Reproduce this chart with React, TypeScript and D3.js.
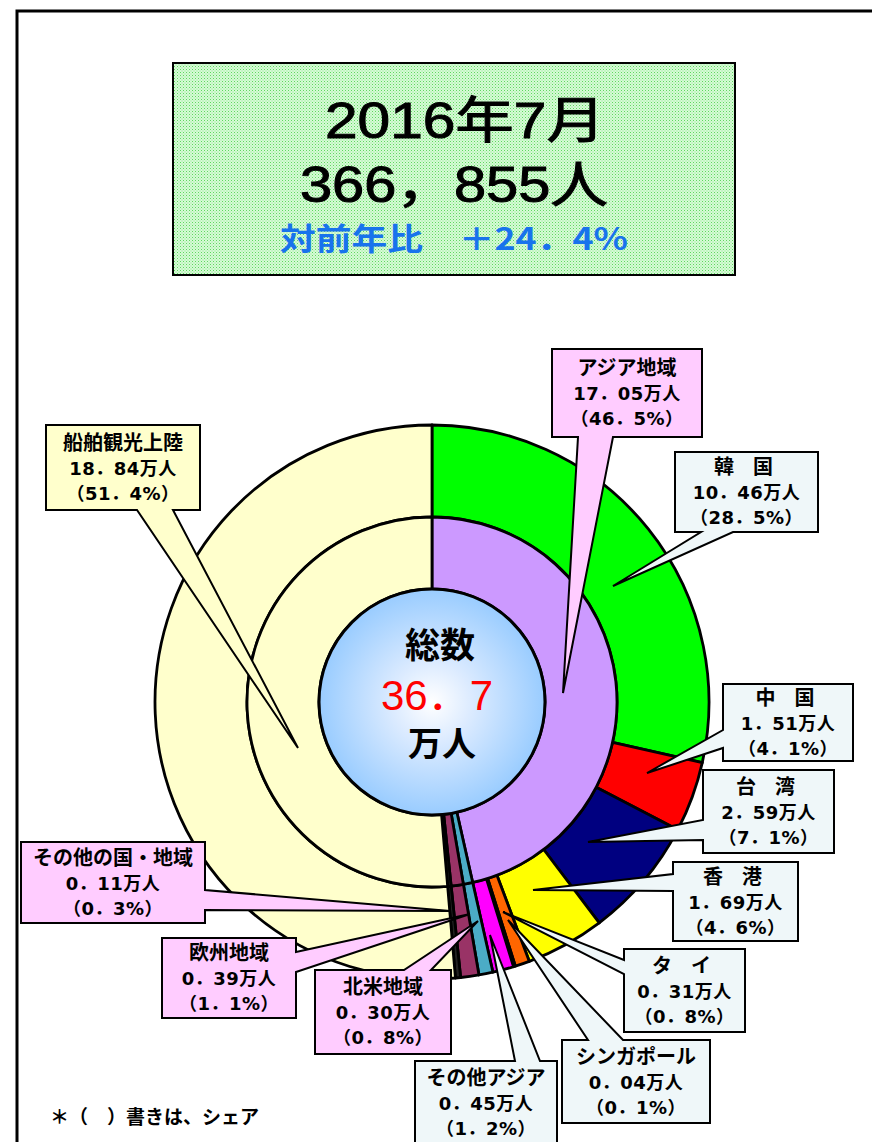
import React from 'react';
import * as d3 from 'd3';

// 2016年7月 visitors (万人)
const innerNames = ['アジア地域', '北米地域', '欧州地域', 'その他の国・地域', '船舶観光上陸'];
const innerValues = [17.05, 0.30, 0.39, 0.11, 18.84];
const innerShares = ['46．5', '0．8', '1．1', '0．3', '51．4'];

const outerNames = ['韓国', '中国', '台湾', '香港', 'タイ', 'シンガポール', 'その他アジア', '北米地域', '欧州地域', 'その他の国・地域', '船舶観光上陸'];
const outerValues = [10.46, 1.51, 2.59, 1.69, 0.31, 0.04, 0.45, 0.30, 0.39, 0.11, 18.84];
const outerShares = ['28．5', '4．1', '7．1', '4．6', '0．8', '0．1', '1．2', '0．8', '1．1', '0．3', '51．4'];

const titleLines = ['2016年7月', '366，855人', '対前年比　＋24．4%'];
const totalLabel = '36．7';

const colors: Record<string, string> = {
  'アジア地域': '#CC99FF',
  '韓国': '#00FF00',
  '中国': '#FF0000',
  '台湾': '#000080',
  '香港': '#FFFF00',
  'タイ': '#FF6600',
  'シンガポール': '#008080',
  'その他アジア': '#FF00FF',
  '北米地域': '#4BACC6',
  '欧州地域': '#993366',
  'その他の国・地域': '#222222',
  '船舶観光上陸': '#FFFFCC',
};

const displayNames: Record<string, string> = {
  '韓国': '韓 国', '中国': '中 国', '台湾': '台 湾', '香港': '香 港', 'タイ': 'タ イ',
};

const PINK = '#FFCCFF';
const PALE = '#EFF7F9';
const CREAM = '#FFFFCC';

// callout layout: box [x, y, w, h], side of the pointer, base range along that side, tip point
const callouts = [
  { name: '船舶観光上陸', ring: 'inner', fill: CREAM, box: [46, 425, 154, 85], side: 'bottom', base: [137, 173], tip: [298, 748] },
  { name: 'アジア地域', ring: 'inner', fill: PINK, box: [552, 349, 150, 88], side: 'bottom', base: [578, 613], tip: [563, 693] },
  { name: '韓国', ring: 'outer', fill: PALE, box: [675, 452, 143, 80], side: 'bottom', base: [701, 733], tip: [613, 586] },
  { name: '中国', ring: 'outer', fill: PALE, box: [723, 684, 130, 77], side: 'left', base: [730, 748], tip: [647, 773] },
  { name: '台湾', ring: 'outer', fill: PALE, box: [703, 770, 131, 83], side: 'left', base: [820, 840], tip: [588, 842] },
  { name: '香港', ring: 'outer', fill: PALE, box: [673, 862, 125, 79], side: 'left', base: [874, 891], tip: [533, 890] },
  { name: 'タイ', ring: 'outer', fill: PALE, box: [624, 949, 121, 83], side: 'left', base: [960, 974], tip: [503, 912] },
  { name: 'シンガポール', ring: 'outer', fill: PALE, box: [562, 1040, 148, 83], side: 'top', base: [588, 623], tip: [508, 920] },
  { name: 'その他アジア', ring: 'outer', fill: PALE, box: [415, 1061, 142, 84], side: 'top', base: [515, 540], tip: [490, 935] },
  { name: '北米地域', ring: 'outer', fill: PINK, box: [315, 970, 136, 84], side: 'top', base: [404, 431], tip: [478, 921] },
  { name: '欧州地域', ring: 'outer', fill: PINK, box: [162, 938, 134, 80], side: 'right', base: [952, 972], tip: [470, 914] },
  { name: 'その他の国・地域', ring: 'outer', fill: PINK, box: [21, 842, 184, 81], side: 'right', base: [890, 910], tip: [450, 911] },
];

function calloutPath(c: any) {
  const [x, y, w, h] = c.box;
  const [a, b] = c.base;
  const [tx, ty] = c.tip;
  if (c.side === 'bottom')
    return `M${x},${y}H${x + w}V${y + h}H${b}L${tx},${ty}L${a},${y + h}H${x}Z`;
  if (c.side === 'top')
    return `M${x},${y}H${a}L${tx},${ty}L${b},${y}H${x + w}V${y + h}H${x}Z`;
  if (c.side === 'left')
    return `M${x},${y}H${x + w}V${y + h}H${x}V${b}L${tx},${ty}L${x},${a}Z`;
  return `M${x},${y}H${x + w}V${a}L${tx},${ty}L${x + w},${b}V${y + h}H${x}Z`;
}

export default function App() {
  const cx = 432;
  const cy = 702;
  const rCenter = 113;
  const rMid = 185;
  const rOuter = 277;

  const pie = d3.pie<number>().sort(null).value((d) => d).startAngle(0).endAngle(2 * Math.PI);
  const innerArcs = pie(innerValues);
  const outerArcs = pie(outerValues);
  const innerArc = d3.arc<d3.PieArcDatum<number>>().innerRadius(rCenter).outerRadius(rMid);
  const outerArc = d3.arc<d3.PieArcDatum<number>>().innerRadius(rMid).outerRadius(rOuter);

  const fontJP = "'Noto Sans CJK JP', sans-serif";
  const fontNum = "'Liberation Sans', 'Noto Sans CJK JP', sans-serif";
  const fontLabel = "'DejaVu Sans', 'Noto Sans CJK JP', sans-serif";

  const labelLines = (c: any) => {
    const names = c.ring === 'inner' ? innerNames : outerNames;
    const vals = c.ring === 'inner' ? innerValues : outerValues;
    const shares = c.ring === 'inner' ? innerShares : outerShares;
    const i = names.indexOf(c.name);
    return [
      displayNames[c.name] || c.name,
      vals[i].toFixed(2).replace('.', '．') + '万人',
      '（' + shares[i] + '%）',
    ];
  };

  return (
    <svg width={872} height={1142} style={{ position: 'absolute', left: 0, top: 0, background: '#fff' }}>
      <defs>
        <pattern id="dots" width={3} height={3} patternUnits="userSpaceOnUse">
          <rect width={3} height={3} fill="#D6FBD6" />
          <rect x={0} y={0} width={1} height={1} fill="#5FD75F" />
          <rect x={1.5} y={1.5} width={1} height={1} fill="#8FE58F" />
        </pattern>
        <radialGradient id="centerGrad" cx="50%" cy="50%" r="50%">
          <stop offset="0%" stopColor="#FFFFFF" />
          <stop offset="35%" stopColor="#DCEBFF" />
          <stop offset="100%" stopColor="#99CCFF" />
        </radialGradient>
      </defs>

      {/* frame */}
      <path d="M17,1142V11H872" fill="none" stroke="#000" strokeWidth={3} />

      {/* title box */}
      <rect x={173} y={63} width={562} height={212} fill="url(#dots)" stroke="#000" strokeWidth={2} />
      <text x={465} y={138} textAnchor="middle" fontFamily={fontNum} stroke="#000" strokeWidth={1}
        fontSize={50} textLength={280} lengthAdjust="spacingAndGlyphs" fill="#000">{titleLines[0]}</text>
      <text x={454} y={202} textAnchor="middle" fontFamily={fontNum} stroke="#000" strokeWidth={1}
        fontSize={50} textLength={308} lengthAdjust="spacingAndGlyphs" fill="#000">{titleLines[1]}</text>
      <text x={454} y={250} textAnchor="middle" fontFamily={fontJP} fontWeight={700}
        fontSize={31} textLength={348} lengthAdjust="spacingAndGlyphs" fill="#1873EC">{titleLines[2]}</text>

      {/* rings */}
      <g transform={`translate(${cx},${cy})`} stroke="#000" strokeWidth={2.8} strokeLinejoin="round">
        {outerArcs.map((d, i) => (
          <path key={'o' + i} d={outerArc(d) || ''} fill={colors[outerNames[i]]} />
        ))}
        {innerArcs.map((d, i) => (
          <path key={'i' + i} d={innerArc(d) || ''} fill={colors[innerNames[i]]} />
        ))}
        <circle r={rCenter} fill="url(#centerGrad)" strokeWidth={3} />
        <text x={8} y={-44} textAnchor="middle" fontFamily={fontJP} fontWeight={700} fontSize={35} fill="#000" stroke="none">総数</text>
        <text x={5} y={8} textAnchor="middle" fontFamily={fontNum} fontSize={42} fill="#FF0000" stroke="none">{totalLabel}</text>
        <text x={10} y={54} textAnchor="middle" fontFamily={fontJP} fontWeight={700} fontSize={34} fill="#000" stroke="none">万人</text>
      </g>

      {/* callouts */}
      {callouts.map((c) => {
        const [x, y, w, h] = c.box;
        const lines = labelLines(c);
        const mid = x + w / 2;
        const top = y + h / 2 - 25;
        return (
          <g key={c.name}>
            <path d={calloutPath(c)} fill={c.fill} stroke="#000" strokeWidth={2} strokeLinejoin="miter" />
            <text textAnchor="middle" fontFamily={fontLabel} fontWeight={700} fill="#000">
              {lines.map((t, j) => (
                <tspan key={j} x={mid} y={top + j * 25 + 7}
                  fontSize={j === 0 ? 20 : 18}
                  letterSpacing={j === 0 ? (displayNames[c.name] ? 6 : 0) : 0.5}>{t}</tspan>
              ))}
            </text>
          </g>
        );
      })}

      {/* footnote */}
      <text x={50} y={1124} fontFamily={fontLabel} fontWeight={700} fontSize={19} fill="#000">＊（　）書きは、シェア</text>
    </svg>
  );
}
